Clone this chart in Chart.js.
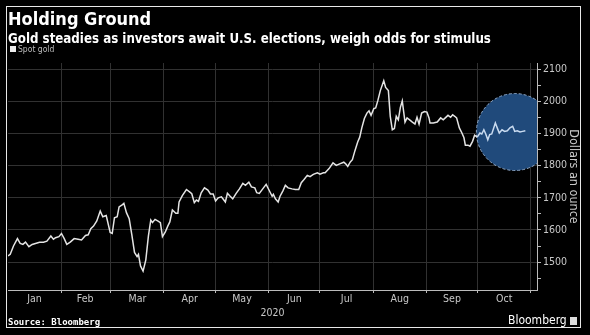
<!DOCTYPE html>
<html>
<head>
<meta charset="utf-8">
<title>Holding Ground</title>
<script src="https://cdn.jsdelivr.net/npm/chart.js@4/dist/chart.umd.min.js"></script>
<style>
  body { margin: 0; background: #000; }
  #wrap { position: relative; width: 590px; height: 335px; background: #000; overflow: hidden; font-family: "DejaVu Sans Condensed", "DejaVu Sans", sans-serif; }
  #frame { position: absolute; left: 6px; top: 6px; width: 573px; height: 320px; border: 1px solid #e8e8e8; }
  #title { position: absolute; left: 8px; top: 8px; color: #fff; font-weight: bold; font-size: 18px; white-space: nowrap; }
  #subtitle { position: absolute; left: 8px; top: 31px; color: #fff; font-weight: bold; font-size: 13.2px; white-space: nowrap; }
  #legend { position: absolute; left: 10px; top: 44px; color: #bbb; font-size: 8.5px; white-space: nowrap; }
  #legend span { display: inline-block; width: 6px; height: 6px; background: #eee; margin-right: 2px; }
  #source { position: absolute; left: 8px; top: 317px; color: #fff; font-family: "DejaVu Sans Mono", monospace; font-weight: bold; font-size: 9px; white-space: nowrap; }
  #brand { position: absolute; left: 508px; top: 313px; color: #fff; font-size: 12px; white-space: nowrap; }
  #brand i { display: inline-block; width: 7px; height: 8px; background: #ddd; margin-left: 3px; vertical-align: -1px; }
  #chart { position: absolute; left: 0; top: 0; width: 590px; height: 335px; }
</style>
</head>
<body>
<div id="wrap">
  <div id="chart"><canvas id="gold"></canvas></div>
  <div id="frame"></div>
  <div id="title">Holding Ground</div>
  <div id="subtitle">Gold steadies as investors await U.S. elections, weigh odds for stimulus</div>
  <div id="legend"><span></span>Spot gold</div>
  <div id="source">Source: Bloomberg</div>
  <div id="brand">Bloomberg<i></i></div>
</div>
<script>
// spot gold, 2020 (x = day of year, Jan 1 = 0)
const days = [0, 1.3, 3.2, 5.5, 7.1, 8.7, 10.2, 12.2, 14.1, 16, 18.4, 20.7, 22.7, 25, 26.5, 27.7, 29.7,
  31.2, 32.8, 34.3, 36.3, 38.6, 40.9, 42.9, 45.2, 46.8, 48.3, 49.9, 51.8, 53.8, 55.3, 57.3, 59.6,
  60.8, 62.1, 63.7, 64.8, 66.8, 67.6, 69.1, 70.7, 72.2, 73.8, 75.3, 76.1, 77.3, 78.8, 80.4, 81.9,
  83.3, 84.3, 85.8, 87.8, 88.9, 90.1, 91.7, 93.2, 94.4, 95.9, 97.9, 99.1, 99.8, 101.7, 104.1, 106.1,
  107.2, 108.7, 109.9, 111.1, 112.7, 114.6, 116.6, 118.1, 119.7, 121.1, 122.6, 124.5, 125.7, 126.8,
  128, 129.6, 131.1, 133.1, 135, 137, 138.5, 140.5, 142, 144, 145.1, 146.6, 148.6, 150.6, 152.1,
  154.1, 154.8, 156, 157.6, 158.7, 160.3, 161.8, 163.4, 165.7, 167.6, 169.6, 171.1, 172.7, 174.6,
  176.2, 178.1, 180.5, 182, 184, 185, 187.3, 189.6, 191.5, 193.5, 195.9, 197, 198.2, 199.7, 200.9,
  202.4, 204, 205.2, 206.4, 207.9, 209.4, 210.6, 211.8, 213.4, 214.5, 215.7, 217.2, 219.2, 220.3,
  221.9, 223, 224.2, 225.4, 226.5, 227.7, 228.9, 230, 231.6, 232.8, 234.3, 235.9, 237.4, 238.6,
  239.8, 241.3, 242.9, 244.4, 245.6, 246.2, 248.1, 250.4, 252.4, 253.9, 255.1, 256.7, 258.2, 259.4,
  260.6, 261.7, 263.3, 264.8, 266, 266.8, 268.3, 269.5, 271, 272.2, 273.7, 275.3, 276.4, 277.6,
  278.7, 279.9, 281, 282.2, 284.3, 285.4, 286.6, 288.2, 289.7, 291.3, 292.8, 294.4, 295.6, 297.1,
  298.7, 300.2, 301.8];
const gold = [1519, 1524, 1550, 1573, 1558, 1555, 1562, 1548, 1555, 1558, 1562, 1562, 1565, 1581, 1571, 1576, 1579,
  1589, 1573, 1555, 1562, 1573, 1571, 1569, 1583, 1585, 1604, 1612, 1628, 1659, 1641, 1645, 1592,
  1589, 1638, 1641, 1672, 1679, 1683, 1654, 1635, 1586, 1530, 1517, 1524, 1488, 1472, 1507, 1581,
  1631, 1623, 1633, 1627, 1623, 1579, 1593, 1612, 1625, 1662, 1652, 1652, 1687, 1707, 1726, 1718,
  1713, 1685, 1693, 1689, 1716, 1731, 1724, 1712, 1712, 1690, 1700, 1703, 1695, 1687,
  1714, 1705, 1697, 1714, 1728, 1745, 1739, 1749, 1734, 1731, 1716, 1714, 1728, 1742, 1726,
  1705, 1711, 1697, 1687, 1705, 1721, 1739, 1731, 1728, 1726, 1726, 1747, 1757, 1770,
  1766, 1773, 1778, 1774, 1778, 1778, 1791, 1809, 1801, 1806, 1811, 1806, 1798, 1812, 1819,
  1847, 1874, 1889, 1918, 1947, 1964, 1971, 1957, 1978, 1980, 2002, 2034, 2065, 2044,
  2034, 1954, 1912, 1916, 1954, 1943, 1982, 2002, 1936, 1949, 1943, 1936, 1930, 1951,
  1930, 1964, 1969, 1967, 1949, 1933, 1933, 1936, 1949, 1943, 1949, 1957, 1951, 1959,
  1954, 1949, 1918, 1902, 1887, 1864, 1864, 1861, 1876, 1895, 1889, 1902, 1899, 1912,
  1899, 1881, 1897, 1899, 1933, 1918, 1902, 1912, 1907, 1909, 1918, 1923, 1907, 1909,
  1905, 1907, 1909];

// month boundaries and mid-month label positions
const monthStarts = [31, 60, 91, 121, 152, 182, 213, 244, 274, 305];
const monthMids = [15.5, 45, 75.5, 106, 136.5, 167, 197.5, 228.5, 259, 289.5];
const monthNames = ['Jan', 'Feb', 'Mar', 'Apr', 'May', 'Jun', 'Jul', 'Aug', 'Sep', 'Oct'];
const priceTicks = [1450, 1500, 1550, 1600, 1650, 1700, 1750, 1800, 1850, 1900, 1950, 2000, 2050, 2100];

// highlight around the latest stretch
const spot = { day: 295.7, price: 1905, r: 38.5 };

const highlight = {
  id: 'highlight',
  beforeDatasetsDraw(chart) {
    const {ctx, chartArea, scales} = chart;
    const cx = scales.x.getPixelForValue(spot.day);
    const cy = scales.y.getPixelForValue(spot.price);
    ctx.save();
    ctx.beginPath();
    ctx.rect(chartArea.left, chartArea.top, chartArea.right - chartArea.left, chartArea.bottom - chartArea.top);
    ctx.clip();
    ctx.beginPath();
    ctx.arc(cx, cy, spot.r, 0, Math.PI * 2);
    ctx.fillStyle = '#204a7b';
    ctx.fill();
    ctx.setLineDash([3, 2]);
    ctx.strokeStyle = '#8fa9c9';
    ctx.lineWidth = 1;
    ctx.stroke();
    ctx.restore();
  }
};

const points = days.map((d, i) => ({x: d, y: gold[i]}));
const gridColor = '#313131';

new Chart(document.getElementById('gold'), {
  type: 'line',
  data: {
    datasets: [{
      data: points,
      borderColor: '#e4e4e4',
      borderWidth: 1.5,
      pointRadius: 0,
      tension: 0,
      segment: {
        borderColor: c => c.p0.parsed.x >= spot.day - 22 ? '#c9dbf0' : undefined
      }
    }]
  },
  options: {
    responsive: true,
    maintainAspectRatio: false,
    animation: false,
    layout: { padding: { left: 8, top: 63, right: 0, bottom: 0 } },
    plugins: { legend: { display: false }, tooltip: { enabled: false } },
    scales: {
      x: {
        type: 'linear',
        min: 0,
        max: 308.6,
        afterBuildTicks: s => {
          s.ticks = monthStarts.map(v => ({value: v})).concat(monthMids.map(v => ({value: v})));
        },
        afterFit: s => { s.height = 45; },
        ticks: {
          autoSkip: false,
          maxRotation: 0,
          color: '#c8c8c8',
          font: { family: 'DejaVu Sans Condensed', size: 10.5 },
          padding: 0,
          callback: v => {
            const i = monthMids.indexOf(v);
            return i >= 0 ? monthNames[i] : '';
          }
        },
        grid: {
          color: c => monthStarts.includes(c.tick && c.tick.value) ? gridColor : 'transparent',
          tickColor: c => monthStarts.includes(c.tick && c.tick.value) ? '#bbb' : 'transparent',
          tickLength: 3,
          lineWidth: 1
        },
        border: { color: '#bbb', width: 1 },
        title: {
          display: true,
          text: '2020',
          color: '#c8c8c8',
          font: { family: 'DejaVu Sans Condensed', size: 10.5 },
          padding: { top: 1, bottom: 15 }
        }
      },
      y: {
        position: 'right',
        min: 1413,
        max: 2120,
        afterBuildTicks: s => { s.ticks = priceTicks.map(v => ({value: v})); },
        afterFit: s => { s.width = 53; },
        ticks: {
          color: '#c8c8c8',
          font: { family: 'DejaVu Sans Condensed', size: 10.5 },
          padding: 2,
          callback: v => v % 100 === 0 ? String(v) : ''
        },
        grid: {
          color: c => c.tick && c.tick.value % 100 === 0 ? gridColor : 'transparent',
          tickColor: '#bbb',
          tickLength: 4,
          lineWidth: 1
        },
        border: { color: '#bbb', width: 1 },
        title: {
          display: true,
          text: 'Dollars an ounce',
          color: '#c8c8c8',
          font: { family: 'DejaVu Sans Condensed', size: 12.5 },
          padding: { top: 9, bottom: 0 }
        }
      }
    }
  },
  plugins: [highlight]
});
</script>
</body>
</html>
